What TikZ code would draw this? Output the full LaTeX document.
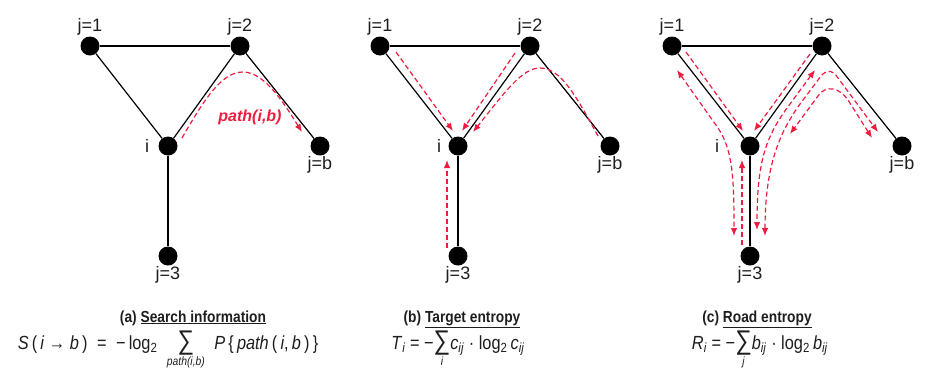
\documentclass[tikz,border=0pt]{standalone}
\usepackage{fontspec}
\setmainfont{Liberation Sans}
\newfontfamily\narrowfont[FakeStretch=0.86]{Liberation Sans}
\usetikzlibrary{arrows.meta,calc}
\definecolor{fred}{HTML}{EE1D3F}
\definecolor{fgray}{HTML}{1E1E1E}
% large sans summation sign with its index set below
\newcommand{\bigsum}[1]{\mathop{\mbox{\fontsize{27}{28}\selectfont ∑}}\limits_{\mbox{\fontsize{12}{13}\selectfont\itshape #1}}}

\begin{document}
\begin{tikzpicture}[
  x=1pt,y=-1pt,>={Latex[length=8pt,width=6.5pt]},
  vertex/.style={circle,fill=black,inner sep=0pt,minimum size=19pt},
  vlabel/.style={font=\fontsize{18}{20}\selectfont,text=fgray,inner sep=1pt},
  link/.style={draw=black,line width=1.2pt},
  flow/.style={draw=fred,line width=1.2pt,dash pattern=on 5pt off 3pt},
  pathlabel/.style={font=\fontsize{16}{18}\selectfont\bfseries\itshape,text=fred,inner sep=0pt},
  caption/.style={font=\narrowfont\fontsize{16}{18}\selectfont\bfseries,text=fgray,inner sep=0pt,anchor=base},
  formula/.style={font=\narrowfont\fontsize{19}{21}\selectfont,text=fgray,inner sep=0pt,anchor=base}
]
\useasboundingbox (0,0) rectangle (927,378);

% The same small network is drawn three times, one panel per measure.
\foreach \p/\dx/\ls in {a/0/-8pt,b/290/-6pt,c/582/-20pt}{
  \begin{scope}[xshift=\dx]
    \node[vertex,label={[vlabel,xshift=\ls]left:i}] (\p i) at (168,146) {};
    \node[vertex,label={[vlabel]above:j=1}] (\p j1) at (90,46) {};
    \node[vertex,label={[vlabel]above:j=2}] (\p j2) at (240,46) {};
    \node[vertex,label={[vlabel]below:j=b}] (\p jb) at (320,146) {};
    \node[vertex,label={[vlabel]below:j=3}] (\p j3) at (168,256) {};
    \draw[link] (\p j1) -- (\p j2);
    \draw[link] (\p j1) -- (\p i);
    \draw[link] (\p j2) -- (\p i);
    \draw[link] (\p j2) -- (\p jb);
    \draw[link] (\p i) -- (\p j3);
  \end{scope}
}

% (a) one search path from i to b
\draw[flow,->] ($(ai)+(14,-8)$) .. controls (205,98) and (222,72) .. (243,72)
  .. controls (265,72) and (285,105) .. ($(ajb)+(-18,-14)$);
\node[pathlabel] (plabel) at (250,117) {path(i,b)};

% (b) every target flowing into i
\draw[flow,->] ($(bj1)+(16,6)$) -- ($(bi)+(-5,-15)$);
\draw[flow,->] ($(bj2)+(-15,7)$) -- ($(bi)+(4,-15)$);
\draw[flow,->] ($(bjb)+(-12,-10)$) .. controls (578,100) and (562,68) .. (540,68)
  .. controls (522,68) and (505,92) .. ($(bi)+(15,-14)$);
\draw[flow,->] ($(bj3)+(-11,-8)$) -- ($(bi)+(-11,14)$);

% (c) roads ending at i and roads passing through i
\draw[flow,->] ($(cj1)+(14,6)$) -- ($(ci)+(-7,-15)$);
\draw[flow,->] ($(cj2)+(-12,8)$) -- ($(ci)+(4,-15)$);
\draw[flow,->] ($(cj3)+(-8,-11)$) -- ($(ci)+(-8,14)$);
\draw[flow,<->] ($(cj1)+(5,24)$) -- (718,128)
  .. controls (733,150) and (734,180) .. ($(cj3)+(-16,-20)$);
\draw[flow,<->] ($(cj2)+(-7,24)$) -- (790,104)
  .. controls (766,136) and (757,160) .. ($(cj3)+(7,-26)$);
\draw[flow,<->] ($(cj3)+(15,-20)$) .. controls (765,165) and (780,132) .. (800,104)
  -- (818,80) .. controls (824,70) and (832,68) .. (838,78) -- ($(cjb)+(-24,-14)$);
\draw[flow,<->] ($(cjb)+(-30,-8)$) -- (848,100) .. controls (840,88) and (826,84) .. (818,96)
  -- ($(ci)+(40,-12)$);

% captions and formulas
\node[caption] (capa) at (193,322) {(a) \underline{Search information}};
\node[caption] (capb) at (462,322) {(b) \underline{Target entropy}};
\node[caption] (capc) at (757,322) {(c) \underline{Road entropy}};
\node[formula] (fora) at (168,349) {\textit{S}\,(\,\textit{i} → \textit{b}\,)\enspace=\enspace−\,log\textsubscript{2}\enspace$\displaystyle\bigsum{path(i,b)}$\enspace\textit{P}\,\{\,\textit{path}\,(\,\textit{i},\,\textit{b}\,)\,\}};
\node[formula] (forb) at (458,349) {\textit{T}\textsubscript{\textit{i}} = −$\displaystyle\bigsum{i}$\textit{c}\textsubscript{\textit{ij}} · log\textsubscript{2}\,\textit{c}\textsubscript{\textit{ij}}};
\node[formula] (forc) at (760,349) {\textit{R}\textsubscript{\textit{i}} = −$\displaystyle\bigsum{j}$\textit{b}\textsubscript{\textit{ij}} · log\textsubscript{2}\,\textit{b}\textsubscript{\textit{ij}}};
\end{tikzpicture}
\end{document}
